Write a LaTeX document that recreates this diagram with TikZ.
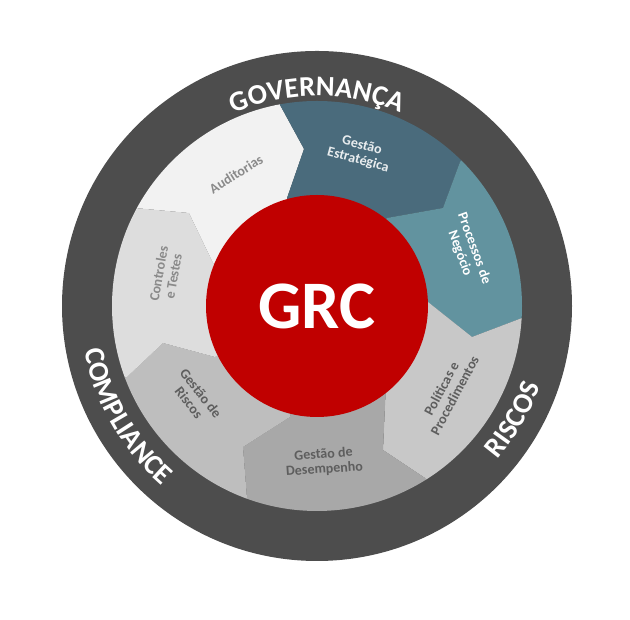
\documentclass[tikz,border=0pt]{standalone}
\usepackage{fontspec}
\setmainfont{Carlito}
\usetikzlibrary{calc,decorations.text}
\definecolor{ring}{HTML}{4D4D4D}
\definecolor{grcred}{HTML}{C00000}
\definecolor{cAud}{HTML}{F2F2F2}
\definecolor{cGE}{HTML}{4A6B7C}
\definecolor{cPN}{HTML}{62939F}
\definecolor{cPol}{HTML}{C8C8C8}
\definecolor{cDes}{HTML}{A8A8A8}
\definecolor{cRis}{HTML}{BEBEBE}
\definecolor{cCon}{HTML}{DDDDDD}
\definecolor{lt}{HTML}{8A8A8A}
\definecolor{dk}{HTML}{5E5E5E}
\newcommand{\ringfnt}{\fontsize{28.5}{28.5}\selectfont\bfseries}
\tikzset{
  lab/.style={font=\fontsize{14}{15}\selectfont\bfseries, align=center, inner sep=0pt},
  ringtext/.style={decorate, decoration={text along path, text align=center, text color=white}},
}
\begin{document}
\begin{tikzpicture}[x=1pt,y=1pt]
\useasboundingbox (0,0) rectangle (630,620);
\fill[white] (0,0) rectangle (630,620);
\coordinate (C) at (317,314);
\foreach \n/\c/\k/\o in {1/{213,357}/{189,407}/{135,412},2/{287,422}/{304,471}/{280,515},3/{387,402}/{443,412}/{460,458},4/{428,318}/{472,283}/{522,302},5/{386,237}/{383,170}/{425,142},6/{290,203}/{243,173}/{247,122},7/{215,263}/{163,277}/{127,243}}{
  \coordinate (c\n) at (\c); \coordinate (k\n) at (\k); \coordinate (o\n) at (\o);
  \coordinate (e\n) at ($(C)!1.4!(o\n)$);
}
\node[circle, fill=ring, minimum size=510pt, inner sep=0pt] (outer) at (C) {};
\begin{scope}
\clip (C) circle[radius=205];
\foreach \i/\j/\col in {1/2/cAud,2/3/cGE,3/4/cPN,4/5/cPol,5/6/cDes,6/7/cRis,7/1/cCon}{
  \fill[\col] (C) -- (c\i) -- (k\i) -- (o\i) -- (e\i) -- ($(C)!1.8!($(o\i)!0.5!(o\j)$)$) -- (e\j) -- (o\j) -- (k\j) -- (c\j) -- cycle;
}
\end{scope}
\node[circle, fill=grcred, minimum size=222pt, inner sep=0pt, text=white, font=\fontsize{68}{68}\selectfont\bfseries] (grc) at (C) {GRC};
\node[lab, text=lt, rotate=32] (aud) at (236,446) {Auditorias};
\node[lab, text=white!88!cGE, rotate=-15] (ge) at (360,467) {Gestão\\Estratégica};
\node[lab, text=white, rotate=-70] (pn) at (467,369) {Processos de\\Negócio};
\node[lab, text=dk, rotate=62] (pol) at (448,228) {Políticas e\\Procedimentos};
\node[lab, text=dk, rotate=4] (des) at (324,158) {Gestão de\\Desempenho};
\node[lab, text=dk, rotate=-52] (ris) at (195,222) {Gestão de\\Riscos};
\node[lab, text=lt, rotate=80] (con) at (166,345) {Controles\\e Testes};
\path[ringtext, decoration={text={|\ringfnt|GOVERNANÇA}}] ($(C)+(140:210)$) arc[start angle=140, end angle=40, radius=210];
\path[ringtext, decoration={text={|\ringfnt|COMPLIANCE}}] ($(C)+(165:237)$) arc[start angle=165, end angle=255, radius=237];
\path[ringtext, decoration={text={|\ringfnt|RISCOS}}] ($(C)+(-75:237)$) arc[start angle=-75, end angle=15, radius=237];
\end{tikzpicture}
\end{document}
